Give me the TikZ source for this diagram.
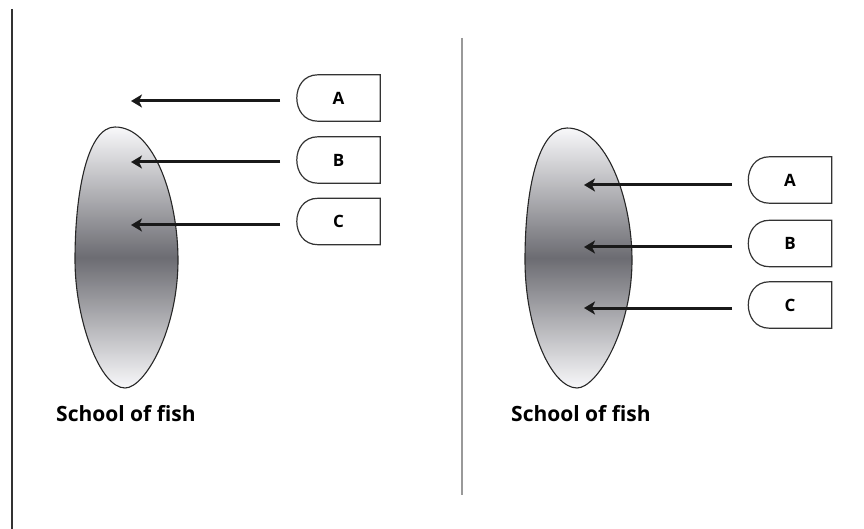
\documentclass[tikz,border=0pt]{standalone}
\usepackage{fontspec}
\setmainfont{Open Sans}
\usetikzlibrary{arrows.meta,calc}
\definecolor{fishdark}{RGB}{108,108,114}
\definecolor{fishlight}{RGB}{248,248,250}
\tikzset{
  tagbox/.style={minimum width=83pt,minimum height=46pt,inner sep=0pt,font=\fontsize{17}{19}\selectfont\bfseries},
  tagline/.style={draw=black!80,line width=1.2pt},
  pusharrow/.style={line width=3pt,draw=black!90,-{Stealth[length=11pt,width=13pt,inset=3pt]}},
  caption/.style={font=\fontsize{21}{24}\selectfont\bfseries,anchor=base west,inner sep=0pt},
  blobline/.style={draw=black!85,line width=1.1pt},
}
\newcommand{\tagshape}[1]{%
  \draw[tagline] ([xshift=21pt]#1.north west) -- (#1.north east) -- (#1.south east)
    -- ([xshift=21pt]#1.south west)
    .. controls ([xshift=-7pt]#1.south west) and ([xshift=-7pt]#1.north west) .. ([xshift=21pt]#1.north west) -- cycle;}
\newcommand{\leftblob}{(115,127) .. controls (155,127) and (178,200) .. (178,260) .. controls (178,330) and (145,388) .. (125,388) .. controls (100,388) and (75,320) .. (75,260) .. controls (75,190) and (88,127) .. (115,127) -- cycle}
\newcommand{\rightblob}{(567,128) .. controls (607,128) and (632,200) .. (632,260) .. controls (632,330) and (597,388) .. (577,388) .. controls (552,388) and (525,330) .. (525,260) .. controls (525,190) and (538,128) .. (567,128) -- cycle}
\begin{document}
\begin{tikzpicture}[x=1pt,y=-1pt]
\useasboundingbox (0,0) rectangle (864,529);
% frame lines
\coordinate (lt) at (12,9);
\coordinate (lb) at (12,529);
\draw[line width=2.2pt,draw=black!80] (lt) -- (lb);
\coordinate (mt) at (462,38);
\coordinate (mb) at (462,495);
\draw[line width=2.2pt,draw=black!40] (mt) -- (mb);

% left school
\shade[top color=fishlight,bottom color=fishlight,middle color=fishdark] \leftblob;
\draw[blobline] \leftblob;
\node[caption] (capL) at (56,421) {School of fish};

% right school
\shade[top color=fishlight,bottom color=fishlight,middle color=fishdark] \rightblob;
\draw[blobline] \rightblob;
\node[caption] (capR) at (511,421) {School of fish};

% left tags
\node[tagbox] (lA) at (338.5,98) {A};
\node[tagbox] (lB) at (338.5,160) {B};
\node[tagbox] (lC) at (338.5,221.5) {C};
\tagshape{lA}\tagshape{lB}\tagshape{lC}
\coordinate (lAt) at (280,101); \coordinate (lAh) at (131,101);
\coordinate (lBt) at (280,162); \coordinate (lBh) at (131,162);
\coordinate (lCt) at (280,225); \coordinate (lCh) at (131,225);
\draw[pusharrow] (lAt) -- (lAh);
\draw[pusharrow] (lBt) -- (lBh);
\draw[pusharrow] (lCt) -- (lCh);

% right tags
\node[tagbox] (rA) at (790,180) {A};
\node[tagbox] (rB) at (790,243.5) {B};
\node[tagbox] (rC) at (790,305) {C};
\tagshape{rA}\tagshape{rB}\tagshape{rC}
\coordinate (rAt) at (732,185); \coordinate (rAh) at (584,185);
\coordinate (rBt) at (732,247); \coordinate (rBh) at (584,247);
\coordinate (rCt) at (732,308); \coordinate (rCh) at (584,308);
\draw[pusharrow] (rAt) -- (rAh);
\draw[pusharrow] (rBt) -- (rBh);
\draw[pusharrow] (rCt) -- (rCh);
\end{tikzpicture}
\end{document}
